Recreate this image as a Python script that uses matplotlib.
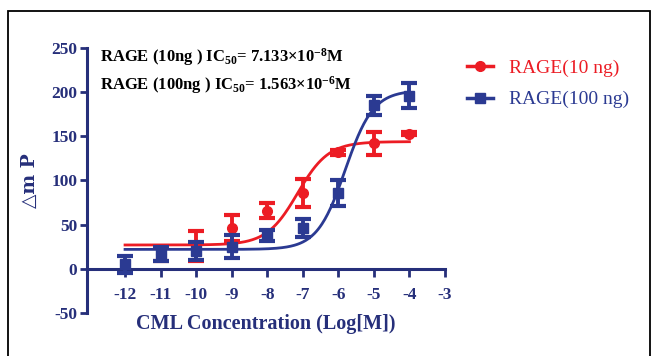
import numpy as np
import matplotlib
matplotlib.use('Agg')
import matplotlib.pyplot as plt
from matplotlib.patches import Rectangle

plt.rcParams['font.family'] = ['Liberation Serif', 'DejaVu Serif']
plt.rcParams['axes.unicode_minus'] = False
plt.rcParams['mathtext.fontset'] = 'custom'
plt.rcParams['mathtext.rm'] = 'Liberation Serif:bold'
plt.rcParams['mathtext.bf'] = 'Liberation Serif:bold'
plt.rcParams['mathtext.it'] = 'Liberation Serif:bold'
plt.rcParams['mathtext.default'] = 'rm'

# data
log_conc = [-12, -11, -10, -9, -8, -7, -6, -5, -4]
x_ticks = [-12, -11, -10, -9, -8, -7, -6, -5, -4, -3]
y_ticks = [-50, 0, 50, 100, 150, 200, 250]

red_x = [-11, -10, -9, -8, -7, -6, -5, -4]
red_y = [17, 26, 46, 66, 86, 132, 142, 153]
red_err = [8, 17, 15, 8, 16, 3, 13, 2]

blue_x = [-12, -11, -10, -9, -8, -7, -6, -5, -4]
blue_y = [5, 17, 20, 25, 38, 46, 86, 185, 196]
blue_err = [10, 8, 10, 13, 6, 10, 15, 11, 14]

# fitted curves (bottom, top, logIC50, hill)
red_fit = (27, 144, -7.147, 1.0)
blue_fit = (22, 202, -5.806, 1.1)

RED = '#ec1c24'
BLUE = '#2b3a92'
NAVY = '#262f7a'


def four_pl(x, bottom, top, logic50, hill):
    return bottom + (top - bottom) / (1 + 10 ** ((logic50 - x) * hill))


fig = plt.figure(figsize=(6.52, 3.56), dpi=100)
ax = fig.add_axes([87 / 652, 1 - 313 / 356, (445 - 87) / 652, (313 - 48) / 356])

xs = np.linspace(-12, -4, 300)
ax.plot(xs, four_pl(xs, *red_fit), color=RED, lw=2, zorder=2)
ax.plot(xs, four_pl(xs, *blue_fit), color=BLUE, lw=2, zorder=2)

ax.errorbar(red_x, red_y, yerr=red_err, fmt='o', color=RED, ms=7,
            elinewidth=2.8, capsize=6, capthick=3, zorder=3)
ax.errorbar(blue_x, blue_y, yerr=blue_err, fmt='s', color=BLUE, ms=7,
            elinewidth=2.8, capsize=6, capthick=3, zorder=4)

ax.set_xlim(-13.07, -3)
ax.set_ylim(-50, 250)
ax.spines['top'].set_visible(False)
ax.spines['right'].set_visible(False)
ax.spines['bottom'].set_position(('data', 0))
for s in ('left', 'bottom'):
    ax.spines[s].set_color(NAVY)
    ax.spines[s].set_linewidth(2.2)
ax.set_xticks(x_ticks)
ax.set_yticks(y_ticks)
ax.set_xticklabels([str(t) for t in x_ticks])
ax.set_yticklabels([str(t) for t in y_ticks])
ax.tick_params(axis='x', direction='out', length=6, width=2, color=NAVY, pad=7)
ax.tick_params(axis='y', direction='out', length=5, width=2, color=NAVY, pad=2)
for lab in ax.get_xticklabels() + ax.get_yticklabels():
    lab.set_fontweight('bold')
    lab.set_fontsize(12.5)
    lab.set_color(NAVY)
ax.patch.set_visible(False)

ax.text(0.5, -0.005, 'CML Concentration (Log[M])', transform=ax.transAxes,
        ha='center', va='top', fontsize=14.5, fontweight='bold', color=NAVY)
fig.text(30 / 652, 1 - 181 / 356, '△m P', rotation=90, ha='center', va='center',
         fontsize=13.5, fontweight='bold', color=NAVY,
         family=['DejaVu Serif', 'Liberation Serif'])

fig.text(100 / 652, 1 - 57 / 356, r'RAGE (10ng ) IC$_{50}$= 7.133×10$^{-8}$M',
         ha='left', va='center', fontsize=12, fontweight='bold', color='black')
fig.text(100 / 652, 1 - 85 / 356, r'RAGE (100ng ) IC$_{50}$= 1.563×10$^{-6}$M',
         ha='left', va='center', fontsize=12, fontweight='bold', color='black')

h1, = ax.plot([], [], color=RED, lw=2.5, marker='o', ms=7)
h2, = ax.plot([], [], color=BLUE, lw=2.5, marker='s', ms=7)
leg = fig.legend([h1, h2], ['RAGE(10 ng)', 'RAGE(100 ng)'], loc='upper left',
                 bbox_to_anchor=(449 / 652, 1 - 42 / 356), frameon=False,
                 fontsize=14, handlelength=1.35, handletextpad=0.85, labelspacing=0.7)
leg.get_texts()[0].set_color(RED)
leg.get_texts()[1].set_color(BLUE)

fig.patches.append(Rectangle((8 / 652, -0.1), (650 - 8) / 652, 1.1 - 11 / 356,
                             transform=fig.transFigure, fill=False, ec='black', lw=1.3))

fig.savefig('out.png', dpi=100)
